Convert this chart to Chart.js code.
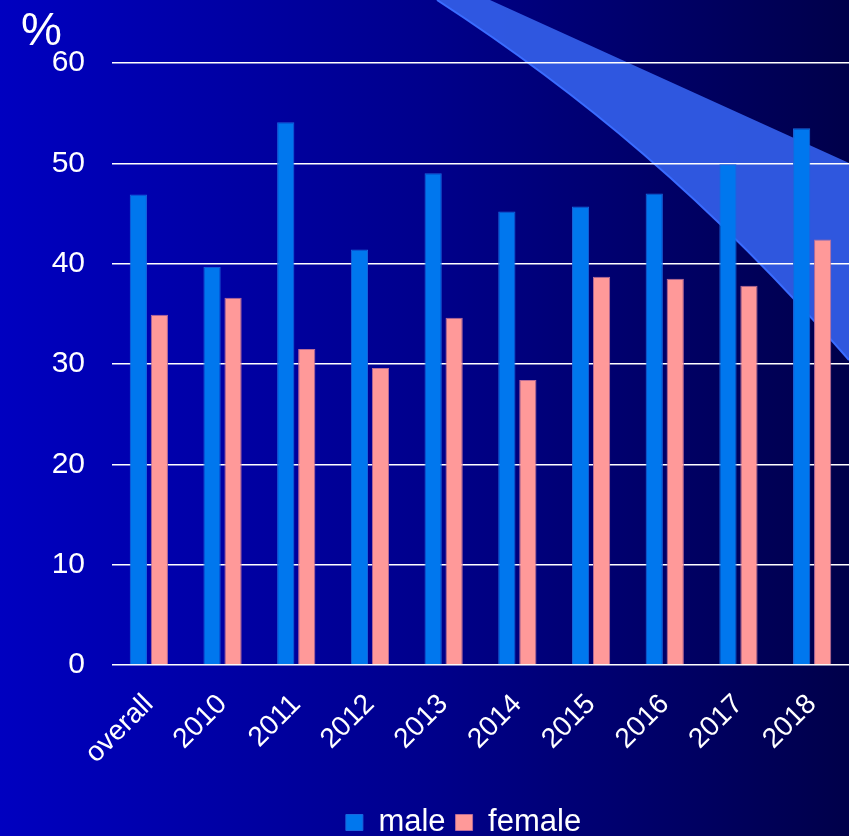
<!DOCTYPE html>
<html>
<head>
<meta charset="utf-8">
<script src="https://cdn.jsdelivr.net/npm/chart.js@4.4.1/dist/chart.umd.min.js"></script>
<style>
  html, body { margin: 0; padding: 0; background: #000080; }
  #wrap { width: 849px; height: 836px; position: relative; }
</style>
</head>
<body>
<div id="wrap"><canvas id="c" width="849" height="836"></canvas></div>
<script>
const categories = ["overall", "2010", "2011", "2012", "2013", "2014", "2015", "2016", "2017", "2018"];
const maleValues = [46.9, 39.7, 54.1, 41.4, 49.0, 45.2, 45.7, 47.0, 49.9, 53.5];
const femaleValues = [34.9, 36.6, 31.5, 29.6, 34.6, 28.4, 38.7, 38.5, 37.8, 42.4];
const seriesNames = ["male", "female"];
const yTicks = [0, 10, 20, 30, 40, 50, 60];
const unitLabel = "%";

const FONT = "'Liberation Sans', Arial, sans-serif";

const backdrop = {
  id: 'backdrop',
  afterLayout(chart) {
    if (chart.legend) {
      chart.legend.left += 19;
      chart.legend.right += 19;
    }
  },
  beforeDraw(chart) {
    const ctx = chart.ctx;
    const w = chart.width, h = chart.height;
    ctx.save();
    const g = ctx.createLinearGradient(0, 0, w, 0);
    g.addColorStop(0, '#0000c0');
    g.addColorStop(0.5, '#00008c');
    g.addColorStop(1, '#00004a');
    ctx.fillStyle = g;
    ctx.fillRect(0, 0, w, h);
    // decorative swoosh
    ctx.beginPath();
    ctx.moveTo(490, 0);
    ctx.lineTo(w + 20, 172);
    ctx.lineTo(w + 20, 380);
    ctx.lineTo(849, 360);
    ctx.bezierCurveTo(709, 199, 577, 91, 437, 0);
    ctx.closePath();
    ctx.fillStyle = 'rgba(50, 92, 230, 0.95)';
    ctx.fill();
    ctx.beginPath();
    ctx.moveTo(437, 0);
    ctx.bezierCurveTo(577, 91, 709, 199, 849, 360);
    ctx.strokeStyle = '#3a6cff';
    ctx.lineWidth = 2;
    ctx.stroke();
    ctx.restore();
  },
  afterDraw(chart) {
    const ctx = chart.ctx;
    ctx.save();
    ctx.fillStyle = '#ffffff';
    ctx.font = '46px ' + FONT;
    ctx.textBaseline = 'alphabetic';
    ctx.textAlign = 'left';
    ctx.fillText(unitLabel, 21, 45);
    ctx.restore();
  }
};

new Chart(document.getElementById('c'), {
  type: 'bar',
  data: {
    labels: categories,
    datasets: [
      {
        label: seriesNames[0],
        data: maleValues,
        backgroundColor: '#0077ee',
        borderColor: '#1a66dd',
        borderWidth: 1,
        categoryPercentage: 0.57,
        barPercentage: 0.82
      },
      {
        label: seriesNames[1],
        data: femaleValues,
        backgroundColor: '#ff9999',
        borderColor: '#b86c98',
        borderWidth: 1,
        categoryPercentage: 0.57,
        barPercentage: 0.82
      }
    ]
  },
  options: {
    responsive: false,
    animation: false,
    devicePixelRatio: 1,
    layout: { padding: { left: 40, right: 0, top: 63, bottom: 0 } },
    plugins: {
      legend: {
        position: 'bottom',
        maxHeight: 39,
        labels: {
          color: '#ffffff',
          font: { family: FONT, size: 31 },
          boxWidth: 17,
          boxHeight: 16,
          padding: 10
        }
      },
      tooltip: { enabled: false },
      title: { display: false }
    },
    scales: {
      x: {
        grid: { display: false },
        border: { display: false },
        ticks: {
          color: '#ffffff',
          font: { family: FONT, size: 28 },
          maxRotation: 45,
          minRotation: 45,
          padding: 15
        },
        afterFit(scale) {
          scale.height = 132;
          scale.paddingLeft = 0;
          scale.paddingRight = 0;
        }
      },
      y: {
        min: 0,
        max: 60,
        afterBuildTicks(scale) { scale.ticks = yTicks.map(v => ({ value: v })); },
        grid: { color: '#ffffff', lineWidth: 1.5, drawTicks: false },
        border: { display: false },
        ticks: {
          color: '#ffffff',
          font: { family: FONT, size: 30 },
          padding: 27
        },
        afterFit(scale) { scale.width = 72; }
      }
    }
  },
  plugins: [backdrop]
});
</script>
</body>
</html>
